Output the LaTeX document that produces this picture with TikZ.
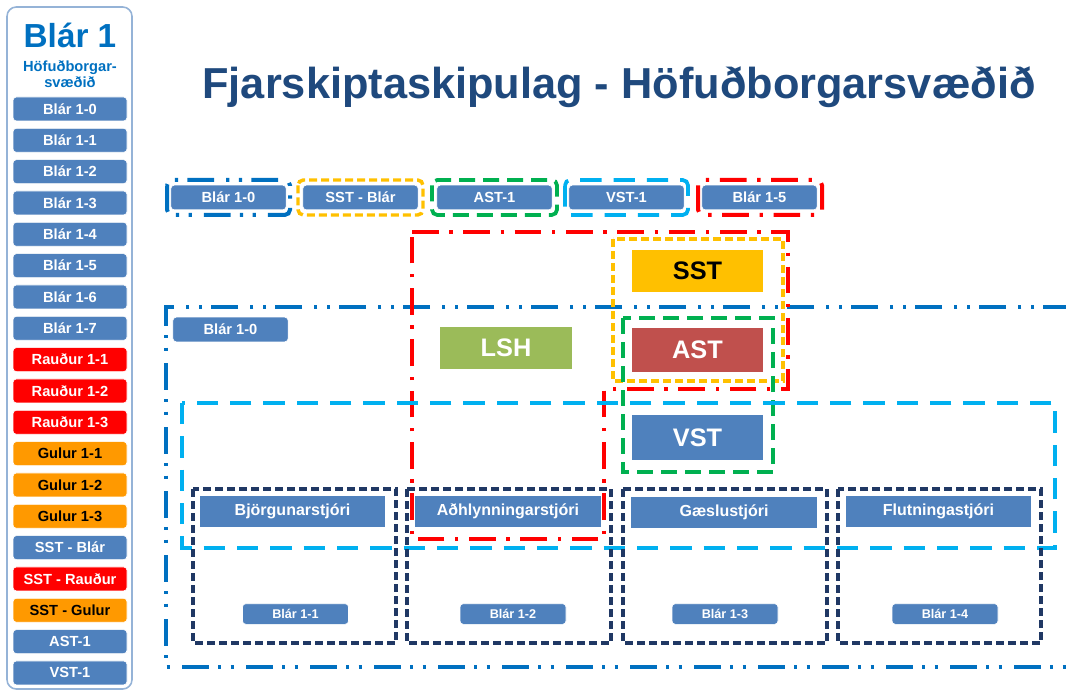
\documentclass[tikz,border=0pt]{standalone}
\usepackage{fontspec}
\setmainfont{Liberation Sans}
\usetikzlibrary{calc}

\definecolor{blaar}{RGB}{79,129,189}
\definecolor{raudur}{RGB}{255,0,0}
\definecolor{gulur}{RGB}{255,153,0}
\definecolor{sstgul}{RGB}{255,192,0}
\definecolor{astraud}{RGB}{192,80,77}
\definecolor{lshgr}{RGB}{155,187,89}
\definecolor{titilblar}{RGB}{31,73,125}
\definecolor{sterkblar}{RGB}{0,112,192}
\definecolor{ljosblar}{RGB}{0,176,240}
\definecolor{graenn}{RGB}{0,176,80}
\definecolor{dokkblar}{RGB}{32,56,100}
\definecolor{ramma}{RGB}{149,179,215}

\tikzset{
	btn/.style={draw=white, line width=0.5pt, rounded corners=2.5pt, fill=blaar, text=white,
		font=\bfseries\fontsize{11}{11}\selectfont, minimum width=85.5pt, minimum height=18pt, inner sep=0pt},
	btnred/.style={btn, fill=raudur},
	btngul/.style={btn, fill=gulur, text=black},
	topbtn/.style={btn, minimum width=86.5pt, minimum height=18.5pt},
	litill/.style={btn, minimum width=79.5pt, minimum height=15.5pt, font=\bfseries\fontsize{9.5}{9.5}\selectfont},
	bigbox/.style={minimum width=98.25pt, minimum height=32pt, inner sep=0pt, text=white,
		font=\bfseries\fontsize{19}{19}\selectfont},
	stjori/.style={fill=blaar, text=white, minimum width=139pt, minimum height=23pt, inner sep=0pt,
		font=\bfseries\fontsize{12}{12}\selectfont},
	bluedd/.style={draw=sterkblar, line width=3pt, dash pattern=on 20pt off 7pt on 2.5pt off 7pt on 2.5pt off 9pt},
	reddd/.style={draw=raudur, line width=3pt, dash pattern=on 20pt off 8pt on 2.5pt off 8pt},
	guldash/.style={draw=sstgul, line width=2.6pt, dash pattern=on 6pt off 3pt},
	graendash/.style={draw=graenn, line width=2.8pt, dash pattern=on 12pt off 6pt},
	ljosdash/.style={draw=ljosblar, line width=2.8pt, dash pattern=on 16pt off 9pt},
	dokkdash/.style={draw=dokkblar, line width=2.6pt, dash pattern=on 6pt off 3pt},
}

\begin{document}
\begin{tikzpicture}[x=0.75pt, y=-0.75pt]
		%%%%% START %%%%%
		\useasboundingbox (0,0) rectangle (1066,691);
		
		% sidebar
		\draw[draw=ramma, line width=1.2pt, rounded corners=7pt] (7,7) rectangle (132,689);
		\node[text=sterkblar, font=\bfseries\fontsize{25}{25}\selectfont] (haus) at (70,35) {Blár 1};
		\node[text=sterkblar, font=\bfseries\fontsize{11}{12}\selectfont, align=center] (svaedi) at (70,74) {Höfuðborgar-\\svæðið};
		\foreach \lbl/\sty [count=\i from 0] in {Blár 1-0/btn, Blár 1-1/btn, Blár 1-2/btn, Blár 1-3/btn,
			Blár 1-4/btn, Blár 1-5/btn, Blár 1-6/btn, Blár 1-7/btn, Rauður 1-1/btnred, Rauður 1-2/btnred,
			Rauður 1-3/btnred, Gulur 1-1/btngul, Gulur 1-2/btngul, Gulur 1-3/btngul, SST - Blár/btn,
			SST - Rauður/btnred, SST - Gulur/btngul, AST-1/btn, VST-1/btn}
			\node[\sty] (side\i) at (70,{109+31.33*\i}) {\lbl};
		
		% title
		\node[anchor=base, text=titilblar, font=\bfseries\fontsize{32.5}{33}\selectfont] (titill) at (619,99) {Fjarskiptaskipulag - Höfuðborgarsvæðið};
		
		% top row
		\draw[bluedd, rounded corners=4pt] (167,180) rectangle (290,215);
		\draw[guldash, rounded corners=4pt] (298,180) rectangle (423,215);
		\draw[graendash, rounded corners=4pt] (432,180) rectangle (557,215);
		\draw[ljosdash, rounded corners=4pt] (565,180) rectangle (688,215);
		\draw[reddd, rounded corners=4pt] (698,180) rectangle (822,215);
		\node[topbtn] (efst1) at (228.5,197.5) {Blár 1-0};
		\node[topbtn] (efst2) at (360.5,197.5) {SST - Blár};
		\node[topbtn] (efst3) at (494.5,197.5) {AST-1};
		\node[topbtn] (efst4) at (626.5,197.5) {VST-1};
		\node[topbtn] (efst5) at (759.5,197.5) {Blár 1-5};
		
		% frames
		\draw[bluedd] (1070,307) -- (166,307) -- (166,667) -- (1070,667);
		\draw[reddd] (412,232) -- (788,232) -- (788,389) -- (604,389) -- (604,539) -- (412,539) -- cycle;
		\draw[guldash] (613,239) rectangle (783,381);
		\draw[graendash] (623,318) rectangle (773,472);
		\draw[ljosdash] (182,403) rectangle (1055,548);
		\draw[dokkdash] (193,489) rectangle (396,643);
		\draw[dokkdash] (407,489) rectangle (611,643);
		\draw[dokkdash] (623,489) rectangle (827,643);
		\draw[dokkdash] (838,489) rectangle (1041,643);
		
		% boxes
		\node[bigbox, fill=sstgul, text=black] (sst) at (697.5,271) {SST};
		\node[bigbox, fill=astraud, minimum height=33pt] (ast) at (697.5,350) {AST};
		\node[bigbox, fill=blaar, minimum height=33.75pt] (vst) at (697.5,437.5) {VST};
		\node[bigbox, fill=lshgr, minimum width=99pt] (lsh) at (506,348) {LSH};
		\node[topbtn] (innri) at (230.5,329.5) {Blár 1-0};
		
		\node[stjori] (bjorgun) at (292.5,511.5) {Björgunarstjóri};
		\node[stjori] (adhlynn) at (508,511.5) {Aðhlynningarstjóri};
		\node[stjori] (gaesla) at (724,512.5) {Gæslustjóri};
		\node[stjori] (flutn) at (938.5,511.5) {Flutningastjóri};
		
		\node[litill] (nedst1) at (295.5,614) {Blár 1-1};
		\node[litill] (nedst2) at (513,614) {Blár 1-2};
		\node[litill] (nedst3) at (725,614) {Blár 1-3};
		\node[litill] (nedst4) at (945,614) {Blár 1-4};
		
		%%%%% END %%%%%
\end{tikzpicture}
\end{document}
